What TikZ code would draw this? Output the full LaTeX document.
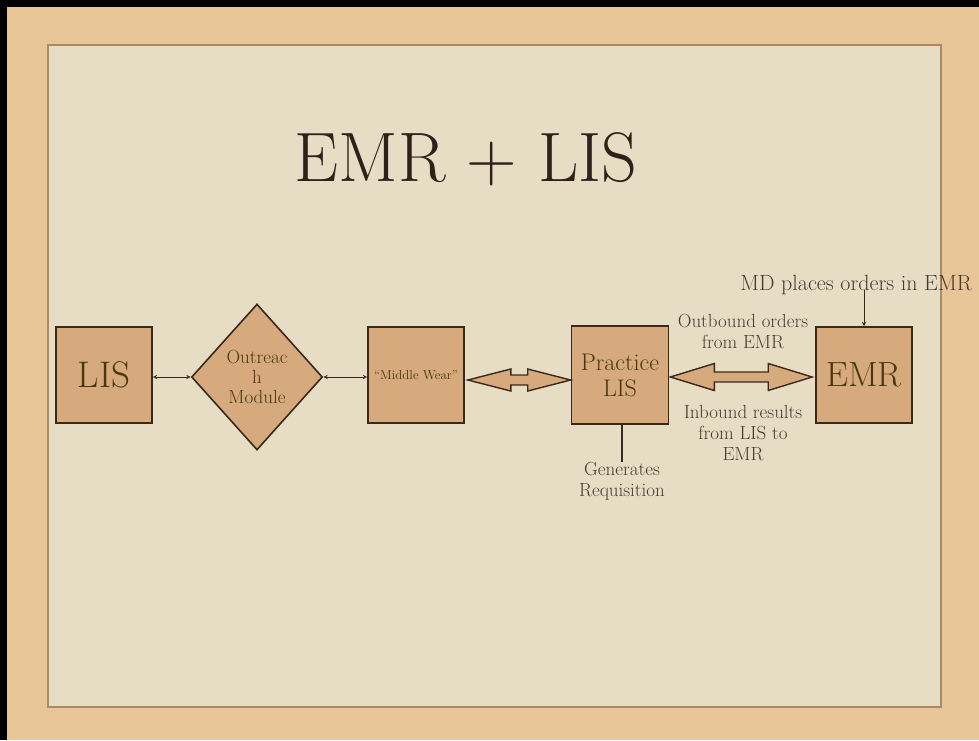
\documentclass[tikz,border=0pt]{standalone}
\usepackage{fontspec}
\usepackage{tikz}
\usetikzlibrary{shapes.geometric}
\definecolor{sand}{RGB}{232,198,152}
\definecolor{paper}{RGB}{231,221,197}
\definecolor{paperedge}{RGB}{178,136,100}
\definecolor{boxfill}{RGB}{214,170,124}
\definecolor{boxline}{RGB}{58,40,28}
\definecolor{boxtext}{RGB}{72,56,16}
\definecolor{notetext}{RGB}{72,58,48}
\definecolor{titletext}{RGB}{48,32,26}
\tikzset{
    box/.style={draw=boxline, fill=boxfill, line width=1.6pt, text=boxtext,
        minimum width=96pt, minimum height=96pt, inner sep=0pt, align=center},
    thinarrow/.style={<->, >=stealth, line width=1pt, draw=boxline},
    fat/.style={draw=boxline, fill=boxfill, line width=1.4pt, line join=miter},
    note/.style={text=notetext, align=center, inner sep=0pt,
        font=\fontsize{19}{21}\selectfont},
}
% fat double arrow between two anchors: from, to, head length, head half width, shaft half width
\newcommand{\fatarrow}[5]{%
\draw[fat] let \p1=(#1), \p2=(#2) in
    (\x1,\y1) -- (\x1+#3,\y1+#4) -- (\x1+#3,\y1+#5) -- (\x2-#3,\y2+#5)
    -- (\x2-#3,\y2+#4) -- (\x2,\y2) -- (\x2-#3,\y2-#4) -- (\x2-#3,\y2-#5)
    -- (\x1+#3,\y1-#5) -- (\x1+#3,\y1-#4) -- cycle;}
\usetikzlibrary{calc}

\begin{document}
\begin{tikzpicture}[x=1pt, y=-1pt]
\useasboundingbox (0,0) rectangle (979,740);

%background and paper
\fill[sand] (0,0) rectangle (979,740);
\fill[black] (0,0) rectangle (979,7);
\fill[black] (0,0) rectangle (7,740);
\filldraw[fill=paper, draw=paperedge, line width=1.5pt] (48,45) rectangle (941,707);

%title
\node[anchor=base, text=titletext, font=\fontsize{70}{70}\selectfont] (title) at (466,181) {EMR + LIS};

%boxes
\node[box, font=\fontsize{37}{37}\selectfont] (lis) at (104,375) {LIS};
\node[diamond, draw=boxline, fill=boxfill, line width=1.6pt, text=boxtext, inner sep=0pt,
    minimum width=131pt, minimum height=146pt, align=center,
    font=\fontsize{19}{20}\selectfont] (om) at (257,377) {Outreac\\h\\Module};
\node[box, font=\fontsize{13}{13}\selectfont] (mw) at (416,375) {``Middle Wear''};
\node[box, minimum width=97pt, minimum height=98pt, font=\fontsize{24}{26}\selectfont] (pl) at (620,375) {Practice\\LIS};
\node[box, font=\fontsize{35}{35}\selectfont] (emr) at (864,375) {EMR};

%notes
\node[note, anchor=base, font=\fontsize{22}{22}\selectfont] (md) at (856,290) {MD places orders in EMR};
\node[note] (outb) at (743,332) {Outbound orders\\from EMR};
\node[note] (inb) at (743,433) {Inbound results\\from LIS to\\EMR};
\node[note] (gen) at (622,481) {Generates\\Requisition};

%connectors
\draw[thinarrow] (lis.east |- om.west) -- (om.west);
\draw[thinarrow] (om.east) -- (om.east -| mw.west);
\fatarrow{[xshift=3pt,yshift=-5pt]mw.east}{[yshift=-5pt]pl.west}{43pt}{11pt}{5pt}
\fatarrow{[xshift=1pt,yshift=-2pt]pl.east}{[xshift=-3pt,yshift=-2pt]emr.west}{44pt}{13.5pt}{5pt}
\draw[->, >=stealth, line width=1pt, boxline] (md.base -| emr.north) -- (emr.north);
\draw[line width=1.2pt, boxline] (pl.south -| gen.north) -- (gen.north);
\end{tikzpicture}
\end{document}
